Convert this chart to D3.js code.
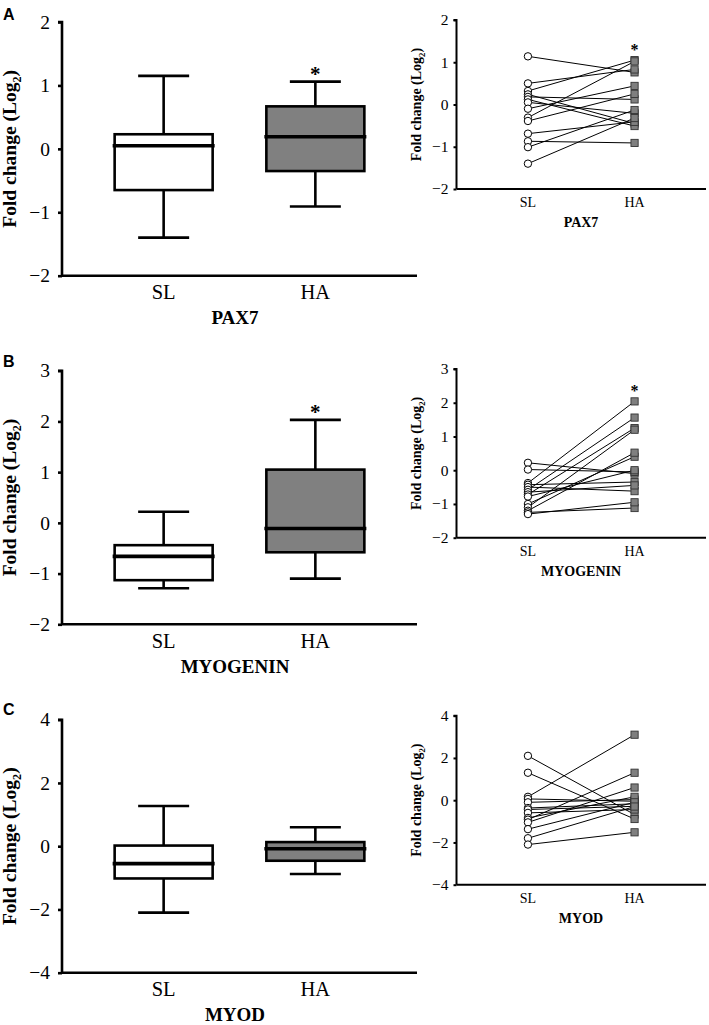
<!DOCTYPE html>
<html><head><meta charset="utf-8">
<script src="https://cdn.jsdelivr.net/npm/d3@7"></script>
<style>body{margin:0;background:#fff}svg{display:block}</style>
</head><body>
<svg id="c" width="709" height="1025"></svg>
<script>
const categories = ["SL","HA"];
const genes = ["PAX7","MYOGENIN","MYOD"];
const panelLetters = ["A","B","C"];
// box stats: [min, q1, median, q3, max]
const pax7BoxSL = [-1.40,-0.65,0.05,0.23,1.15];
const pax7BoxHA = [-0.91,-0.35,0.19,0.67,1.06];
const myogBoxSL = [-1.29,-1.13,-0.66,-0.44,0.22];
const myogBoxHA = [-1.10,-0.58,-0.11,1.05,2.03];
const myodBoxSL = [-2.10,-1.02,-0.55,0.02,1.27];
const myodBoxHA = [-0.88,-0.46,-0.08,0.13,0.60];
// paired individual values
const pax7SL = [1.14,0.50,0.32,0.24,0.18,0.12,0.05,-0.10,-0.31,-0.39,-0.69,-0.87,-1.01,-1.40];
const pax7HA = [0.76,0.83,1.05,-0.45,0.12,-0.51,-0.21,0.44,1.02,0.25,-0.41,-0.91,-0.13,-0.32];
const myogSL = [0.22,0.02,-0.38,-0.43,-0.50,-0.58,-0.65,-0.72,-0.78,-1.00,-1.10,-1.20,-1.25,-1.30];
const myogHA = [-0.10,-0.05,2.04,-0.35,-0.62,1.56,-0.45,1.25,0.00,0.40,1.20,0.52,-1.12,-0.95];
const myodSL = [2.10,1.30,0.16,0.06,-0.10,-0.37,-0.44,-0.60,-0.84,-0.92,-1.05,-1.37,-1.80,-2.10];
const myodHA = [-0.68,-0.89,3.10,-0.05,0.03,-0.17,-0.29,-0.44,0.16,1.30,0.60,-0.10,-0.30,-1.52];
// tick labels
const pax7Ticks = [-2,-1,0,1,2];
const myogTicks = [-2,-1,0,1,2,3];
const myodTicks = [-4,-2,0,2,4];
const boxSig = [true,true,false];
const pairSig = [true,true,false];

const svg = d3.select("#c");
const serif = "'Liberation Serif','Times New Roman',serif";

const panels = [
  {gene:genes[0], letter:panelLetters[0], bSL:pax7BoxSL, bHA:pax7BoxHA, sl:pax7SL, ha:pax7HA, ticks:pax7Ticks,
   L:{top:22, bot:275.7}, R:{top:20, bot:189}, letterY:20},
  {gene:genes[1], letter:panelLetters[1], bSL:myogBoxSL, bHA:myogBoxHA, sl:myogSL, ha:myogHA, ticks:myogTicks,
   L:{top:370.7, bot:624.3}, R:{top:369, bot:537.7}, letterY:367},
  {gene:genes[2], letter:panelLetters[2], bSL:myodBoxSL, bHA:myodBoxHA, sl:myodSL, ha:myodHA, ticks:myodTicks,
   L:{top:719.7, bot:972.7}, R:{top:715.7, bot:884.7}, letterY:715}
];

function yLabel(g, x, y, size){
  const t = g.append("text").attr("transform",`translate(${x},${y}) rotate(-90)`)
    .attr("text-anchor","middle").attr("font-family",serif).attr("font-weight","bold")
    .attr("font-size",size).attr("fill","#000");
  t.append("tspan").text("Fold change (Log");
  t.append("tspan").text("2").attr("font-size",size*0.62).attr("dy",size*0.25);
  t.append("tspan").text(")").attr("dy",-size*0.25);
}

panels.forEach((p,i)=>{
  const ext = d3.extent(p.ticks);
  // ---------- left box plot ----------
  const gL = svg.append("g");
  const x = d3.scalePoint().domain(categories).range([62,417]).padding(0.67);
  const y = d3.scaleLinear().domain(ext).range([p.L.bot, p.L.top]);
  const ax = gL.append("g").attr("transform","translate(62,0)")
    .call(d3.axisLeft(y).tickValues(p.ticks).tickSize(4).tickPadding(8).tickFormat(d3.format("d")));
  ax.select(".domain").attr("stroke-width",2.6).attr("d",`M-4,${p.L.top}H0V${p.L.bot}`);
  ax.selectAll(".tick line").attr("stroke-width",2.6);
  ax.selectAll(".tick text").attr("font-family",serif).attr("font-size",19.5).attr("fill","#000");
  gL.append("line").attr("x1",62).attr("x2",417).attr("y1",p.L.bot).attr("y2",p.L.bot)
    .attr("stroke","#000").attr("stroke-width",2.6);
  [p.bSL,p.bHA].forEach((b,j)=>{
    const cx = x(categories[j]);
    const fill = j===0 ? "#fff" : "#808080";
    const bw = 49, cw = 25.5;
    gL.append("line").attr("x1",cx).attr("x2",cx).attr("y1",y(b[4])).attr("y2",y(b[3])).attr("stroke","#000").attr("stroke-width",2.6);
    gL.append("line").attr("x1",cx).attr("x2",cx).attr("y1",y(b[1])).attr("y2",y(b[0])).attr("stroke","#000").attr("stroke-width",2.6);
    gL.append("line").attr("x1",cx-cw).attr("x2",cx+cw).attr("y1",y(b[4])).attr("y2",y(b[4])).attr("stroke","#000").attr("stroke-width",2.6);
    gL.append("line").attr("x1",cx-cw).attr("x2",cx+cw).attr("y1",y(b[0])).attr("y2",y(b[0])).attr("stroke","#000").attr("stroke-width",2.6);
    gL.append("rect").attr("x",cx-bw).attr("width",2*bw).attr("y",y(b[3])).attr("height",y(b[1])-y(b[3]))
      .attr("fill",fill).attr("stroke","#000").attr("stroke-width",2.6);
    gL.append("line").attr("x1",cx-bw-2).attr("x2",cx+bw+2).attr("y1",y(b[2])).attr("y2",y(b[2])).attr("stroke","#000").attr("stroke-width",3.6);
    gL.append("text").attr("x",cx).attr("y",p.L.bot+23.5).attr("text-anchor","middle")
      .attr("font-family",serif).attr("font-size",20.5).text(categories[j]);
    if(j===1 && boxSig[i]){
      gL.append("text").attr("x",cx).attr("y",y(b[4])-1).attr("text-anchor","middle")
        .attr("font-family",serif).attr("font-size",21).attr("font-weight","bold").text("*");
    }
  });
  gL.append("text").attr("x",235).attr("y",p.L.bot+48.5).attr("text-anchor","middle")
    .attr("font-family",serif).attr("font-weight","bold").attr("font-size",19).text(p.gene);
  yLabel(gL, 16, (p.L.top+p.L.bot)/2, 19.5);
  svg.append("text").attr("x",3).attr("y",p.letterY).attr("font-family","'Liberation Sans',Arial,sans-serif")
    .attr("font-weight","bold").attr("font-size",16).text(p.letter);

  // ---------- right paired plot ----------
  const gR = svg.append("g");
  const xr = d3.scalePoint().domain(categories).range([456.5,706]).padding(0.67);
  const yr = d3.scaleLinear().domain(ext).range([p.R.bot, p.R.top]);
  const axr = gR.append("g").attr("transform","translate(456.5,0)")
    .call(d3.axisLeft(yr).tickValues(p.ticks).tickSize(3).tickPadding(5).tickFormat(d3.format("d")));
  axr.select(".domain").attr("stroke-width",2).attr("d",`M-3,${p.R.top}H0V${p.R.bot}`);
  axr.selectAll(".tick line").attr("stroke-width",2);
  axr.selectAll(".tick text").attr("font-family",serif).attr("font-size",15.5).attr("fill","#000");
  gR.append("line").attr("x1",456.5).attr("x2",706).attr("y1",p.R.bot).attr("y2",p.R.bot)
    .attr("stroke","#000").attr("stroke-width",2);
  const pairs = p.sl.map((v,k)=>({a:v,b:p.ha[k]}));
  gR.selectAll("line.pair").data(pairs).enter().append("line").attr("class","pair")
    .attr("x1",xr("SL")).attr("x2",xr("HA")).attr("y1",d=>yr(d.a)).attr("y2",d=>yr(d.b))
    .attr("stroke","#000").attr("stroke-width",1);
  gR.selectAll("rect.sq").data(pairs).enter().append("rect").attr("class","sq")
    .attr("x",xr("HA")-3.6).attr("y",d=>yr(d.b)-3.6).attr("width",7.2).attr("height",7.2)
    .attr("fill","#7f7f7f").attr("stroke","#333").attr("stroke-width",0.9);
  gR.selectAll("circle.pt").data(pairs).enter().append("circle").attr("class","pt")
    .attr("cx",xr("SL")).attr("cy",d=>yr(d.a)).attr("r",3.7)
    .attr("fill","#fff").attr("stroke","#000").attr("stroke-width",1);
  categories.forEach(c=>{
    gR.append("text").attr("x",xr(c)).attr("y",p.R.bot+18).attr("text-anchor","middle")
      .attr("font-family",serif).attr("font-size",14).text(c);
  });
  if(pairSig[i]){
    gR.append("text").attr("x",xr("HA")).attr("y",yr(d3.max(p.ha))-5).attr("text-anchor","middle")
      .attr("font-family",serif).attr("font-size",16).attr("font-weight","bold").text("*");
  }
  gR.append("text").attr("x",581).attr("y",p.R.bot+38).attr("text-anchor","middle")
    .attr("font-family",serif).attr("font-weight","bold").attr("font-size",14).text(p.gene);
  yLabel(gR, 421, (p.R.top+p.R.bot)/2, 14);
});
</script>
</body></html>
